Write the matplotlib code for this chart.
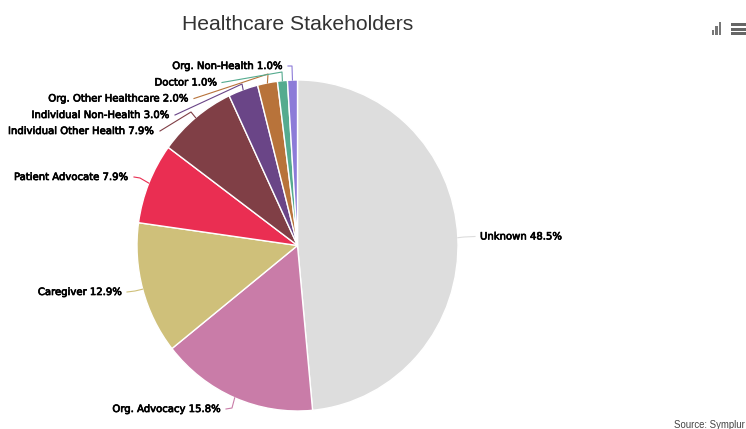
import matplotlib
matplotlib.use("Agg")
import numpy as np
import matplotlib.pyplot as plt
import matplotlib.patheffects as pe
from matplotlib.patches import Rectangle

categories = ["Unknown", "Org. Advocacy", "Caregiver", "Patient Advocate",
              "Individual Other Health", "Individual Non-Health",
              "Org. Other Healthcare", "Doctor", "Org. Non-Health"]
values = [48.5, 15.8, 12.9, 7.9, 7.9, 3.0, 2.0, 1.0, 1.0]
colors = ["#dddddd", "#c97ca8", "#cfc07a", "#ea2e52", "#803f46",
          "#6a4587", "#b8733a", "#55ab8f", "#8c7bd8"]

# layout in pixels: label anchor (x, y), connector elbow (x, y)
label_pos = [(480, 236.5), (221, 409), (122, 292), (129, 177), (155, 131),
             (170, 115), (189, 98.5), (217, 82.5), (283, 66)]
elbows = [(464, 237), (232, 408), (135, 291), (140, 178), (191, 112),
          (242, 84), (268, 74), (282, 72), (292, 66)]
CX, CY, R = 297.5, 245.5, 160.5
YSTRETCH = 331 / 321  # the reference pie is slightly taller than wide


def Y(py):
    return (429 - py) / YSTRETCH


fig = plt.figure(figsize=(7.46, 4.29), dpi=100)
ax = fig.add_axes([0, 0, 1, 1])
wedges, _ = ax.pie(values, colors=colors, startangle=90, counterclock=False,
                   center=(CX, Y(CY)), radius=R, frame=False,
                   wedgeprops=dict(edgecolor="white", linewidth=1))
ax.set_aspect("auto")
ax.set_xlim(0, 746)
ax.set_ylim(0, Y(0))
ax.axis("off")

stroke = [pe.withStroke(linewidth=0.5, foreground="black")]
for i, (w, cat, v, col) in enumerate(zip(wedges, categories, values, colors)):
    a = np.deg2rad((w.theta1 + w.theta2) / 2)
    ex, ey = CX + R * np.cos(a), Y(CY) + R * np.sin(a)
    lx, ly = label_pos[i]
    ha = "left" if i == 0 else "right"
    ax.text(lx, Y(ly), f"{cat} {v:.1f}%", ha=ha, va="center",
            fontsize=7.25, color="black", family="DejaVu Sans",
            path_effects=stroke)
    sx = lx - 5 if i == 0 else lx + 5
    bx, by = elbows[i]
    ax.plot([sx, bx, ex], [Y(ly), Y(by), ey], color=col, lw=0.8,
            solid_joinstyle="round", zorder=1)

ax.text(298, Y(24), "Healthcare Stakeholders", ha="center", va="center",
        fontsize=15.2, color="#333333", family="Liberation Sans")
ax.text(745, Y(425), "Source: Symplur", ha="right", va="center",
        fontsize=6.9, color="#444444", family="Liberation Sans")

# toolbar icons
for x0, h in [(711.5, 5), (715, 9), (718.5, 13)]:
    ax.add_patch(Rectangle((x0, Y(35)), 2.5, h / YSTRETCH, color="#777777", lw=0))
for y0 in (23.5, 28, 32.5):
    ax.add_patch(Rectangle((731, Y(y0 + 2.5)), 15, 2.5 / YSTRETCH, color="#666666", lw=0))

fig.savefig("out.png", dpi=100)
